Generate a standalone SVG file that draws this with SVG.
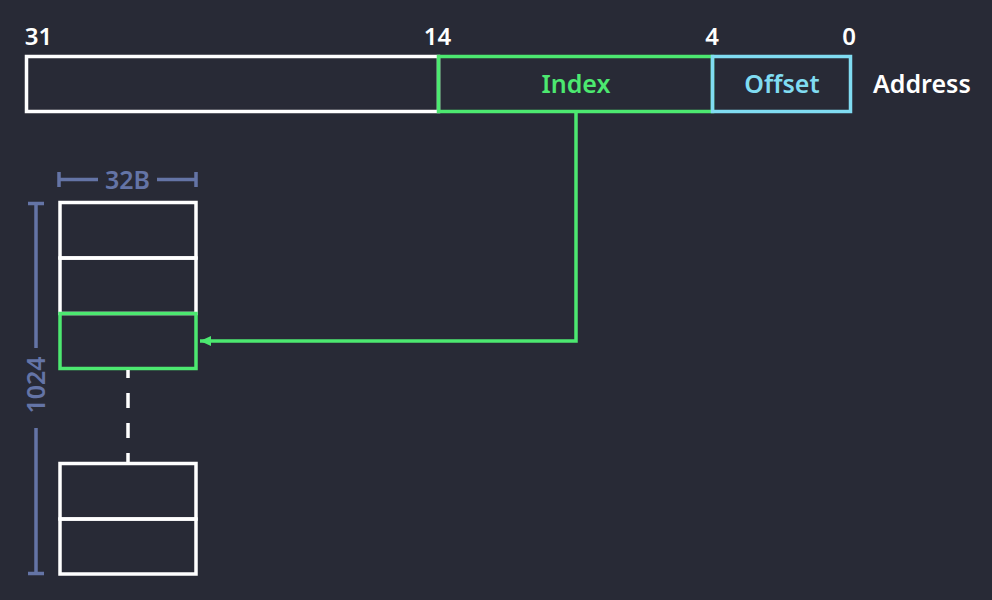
<svg xmlns="http://www.w3.org/2000/svg" width="992" height="600" viewBox="0 0 992 600">
<defs>
<style>
.t{font-family:"Noto Sans","Open Sans","Liberation Sans",sans-serif;font-weight:600;}
.w{fill:none;stroke:#ffffff;stroke-width:3.5;}
.g{fill:none;stroke:#4ce870;stroke-width:3.5;}
.c{fill:none;stroke:#80dcf2;stroke-width:3.5;}
.d{fill:none;stroke:#6474a6;stroke-width:3.5;}
</style>
<marker id="ah" markerWidth="12" markerHeight="12" refX="11" refY="6" orient="auto" markerUnits="userSpaceOnUse">
<path d="M0,1 L11,6 L0,11 Z" fill="#4ce870"/>
</marker>
</defs>
<rect width="992" height="600" fill="#282a36"/>

<g id="address">
<rect id="high-bits" class="w" x="26.5" y="56.5" width="412" height="55"/>
<g id="index">
<rect class="g" x="438.5" y="56.5" width="274" height="55"/>
<text class="t" x="576" y="93" font-size="25" fill="#4ce870" text-anchor="middle">Index</text>
</g>
<g id="offset">
<rect class="c" x="712.5" y="56.5" width="138" height="55"/>
<text class="t" x="782" y="93" font-size="25" fill="#80dcf2" text-anchor="middle">Offset</text>
</g>
<text class="t" x="873" y="93" font-size="25" fill="#ffffff">Address</text>
<g id="bit-labels" class="t" font-size="24" fill="#ffffff" text-anchor="middle">
<text x="38.5" y="45">31</text>
<text x="437.5" y="45">14</text>
<text x="712" y="45">4</text>
<text x="849" y="45">0</text>
</g>
</g>

<g id="cache">
<rect class="w" x="60" y="202.5" width="136" height="55.5"/>
<rect class="w" x="60" y="258" width="136" height="55.5"/>
<rect class="w" x="60" y="463.5" width="136" height="55.5"/>
<rect class="w" x="60" y="519" width="136" height="55"/>
<rect id="selected-line" class="g" x="60" y="313.5" width="136" height="55"/>
</g>

<g id="dim-32B">
<path class="d" d="M59,172V187 M59,179.5H98 M157,179.5H196 M196,172V187"/>
<text class="t" x="127.5" y="188.5" font-size="25" fill="#6474a6" text-anchor="middle">32B</text>
</g>

<g id="dim-1024">
<path class="d" d="M28,203.5H44 M36,203.5V348 M36,428V573.5 M28,573.5H44"/>
<text class="t" transform="translate(44.5,385) rotate(-90)" font-size="25" fill="#6474a6" text-anchor="middle">1024</text>
</g>

<g id="connectors">
<path class="g" d="M576,112V341H200" marker-end="url(#ah)"/>
<path d="M128,370V463" fill="none" stroke="#ffffff" stroke-width="3.5" stroke-dasharray="15 15" stroke-dashoffset="7"/>
</g>
</svg>
